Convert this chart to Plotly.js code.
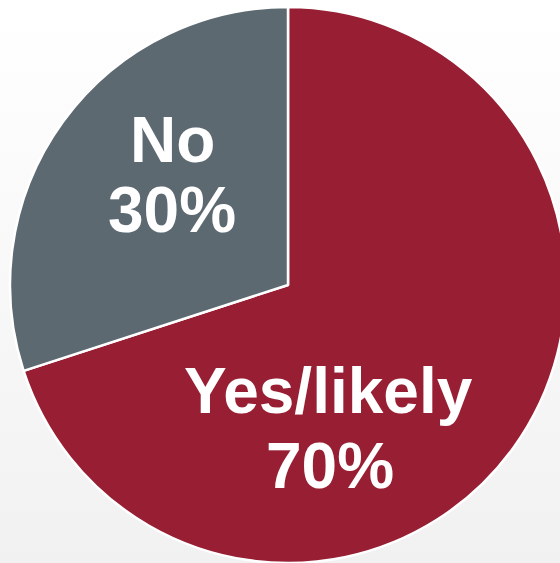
<!DOCTYPE html>
<html>
<head>
<meta charset="utf-8">
<script src="https://cdn.plot.ly/plotly-3.0.1.min.js"></script>
<style>
  html, body { margin: 0; padding: 0; width: 560px; height: 563px; overflow: hidden;
    background: linear-gradient(to bottom, #ffffff 0%, #f1f1f1 100%); }
  #chart { width: 580px; height: 580px; }
</style>
</head>
<body>
<div id="chart"></div>
<script>
const labels = ["Yes/likely", "No"];
const values = [70, 30];
const colors = ["#981F33", "#5D6971"];

const total = values.reduce((a, b) => a + b, 0);

const trace = {
  type: "pie",
  labels: labels,
  values: values,
  sort: false,
  direction: "clockwise",
  rotation: 0,
  marker: { colors: colors, line: { color: "#ffffff", width: 2.5 } },
  textinfo: "none",
  hoverinfo: "none",
  showlegend: false
};

// label placement (paper coordinates) for each slice: [labelX, labelY, pctX, pctY]
const labelSpots = [
  [0.5728, 0.3094, 0.5764, 0.1745],
  [0.2914, 0.7608, 0.2914, 0.6349]
];

const textFont = { family: "Liberation Sans, Arial, sans-serif", size: 64, color: "#ffffff", weight: "bold" };
const annotations = [];
labels.forEach((lab, i) => {
  const p = labelSpots[i];
  const pct = Math.round(values[i] / total * 100) + "%";
  annotations.push({ xref: "paper", yref: "paper", x: p[0], y: p[1], xanchor: "center", yanchor: "middle",
    text: "<b>" + lab + "</b>", showarrow: false, font: textFont });
  annotations.push({ xref: "paper", yref: "paper", x: p[2], y: p[3], xanchor: "center", yanchor: "middle",
    text: "<b>" + pct + "</b>", showarrow: false, font: textFont });
});

const layout = {
  width: 580, height: 580,
  margin: { l: 10, t: 7, r: 14, b: 17, pad: 0 },
  paper_bgcolor: "rgba(0,0,0,0)",
  plot_bgcolor: "rgba(0,0,0,0)",
  showlegend: false,
  annotations: annotations
};

Plotly.newPlot("chart", [trace], layout, { staticPlot: true, displayModeBar: false });
</script>
</body>
</html>
